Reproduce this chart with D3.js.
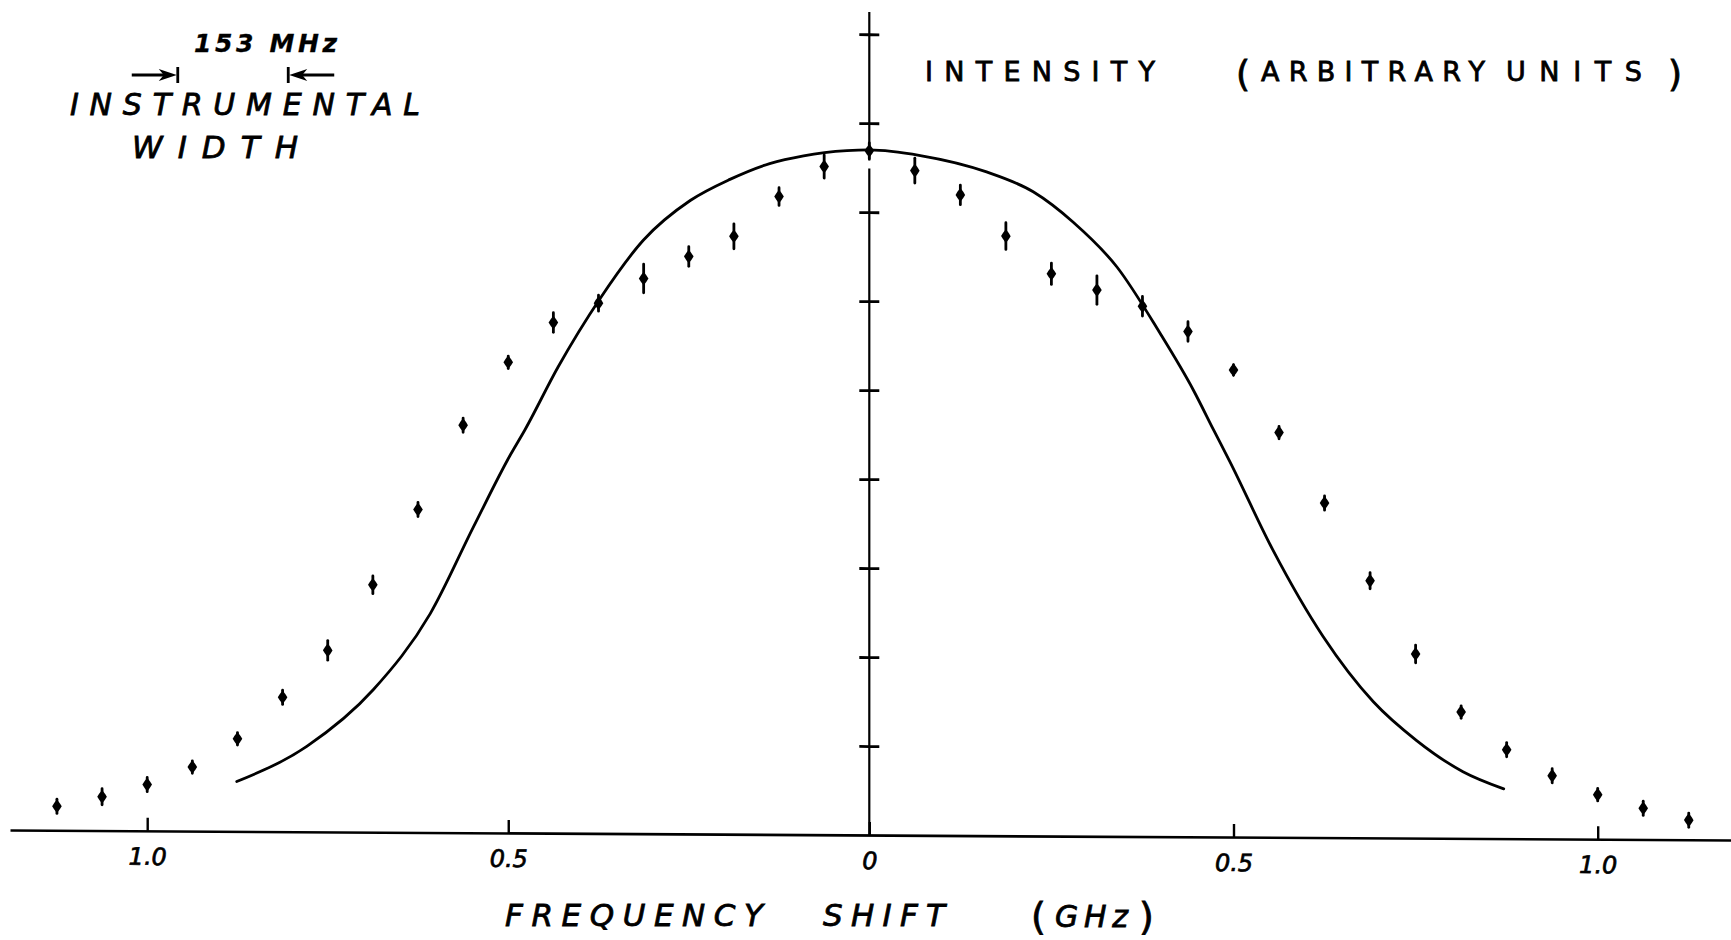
<!DOCTYPE html>
<html>
<head>
<meta charset="utf-8">
<script src="https://cdn.jsdelivr.net/npm/d3@7"></script>
<style>
  html, body { margin: 0; padding: 0; background: #fff; }
  svg { display: block; }
</style>
</head>
<body>
<script>
// Measured line profile: frequency shift (GHz) and intensity (arbitrary units)
const shiftGHz = [
  -1.125, -1.0625, -1.0, -0.9375, -0.875, -0.8125, -0.75, -0.6875, -0.625,
  -0.5625, -0.5, -0.4375, -0.375, -0.3125, -0.25, -0.1875, -0.125, -0.0625,
  0,
  0.0625, 0.125, 0.1875, 0.25, 0.3125, 0.375, 0.4375, 0.5, 0.5625,
  0.625, 0.6875, 0.75, 0.8125, 0.875, 0.9375, 1.0, 1.0625, 1.125
];
const intensity = [
  0.27, 0.38, 0.52, 0.72, 1.04, 1.51, 2.04, 2.78, 3.63,
  4.58, 5.29, 5.74, 5.96, 6.24, 6.49, 6.72, 7.17, 7.51,
  7.69,
  7.47, 7.20, 6.74, 6.32, 6.14, 5.96, 5.68, 5.25, 4.55,
  3.76, 2.89, 2.07, 1.42, 1.00, 0.71, 0.50, 0.35, 0.22
];
const intensityErr = [
  0.08, 0.09, 0.08, 0.07, 0.07, 0.08, 0.11, 0.10, 0.08,
  0.08, 0.07, 0.11, 0.09, 0.16, 0.11, 0.14, 0.10, 0.13,
  0.09,
  0.14, 0.11, 0.15, 0.12, 0.16, 0.11, 0.11, 0.06, 0.07,
  0.08, 0.09, 0.10, 0.07, 0.08, 0.08, 0.07, 0.08, 0.08
];

// Calculated profile (solid curve)
const profileShift = [
  -0.876, -0.779, -0.687, -0.608, -0.548, -0.497, -0.477, -0.431, -0.373,
  -0.313, -0.248, -0.193, -0.138, -0.091, -0.031, 0,
  0.070, 0.161, 0.225, 0.280, 0.340, 0.399, 0.445, 0.473, 0.495,
  0.554, 0.623, 0.692, 0.751, 0.815, 0.871
];
const profileIntensity = [
  0.56, 0.96, 1.60, 2.46, 3.44, 4.25, 4.53, 5.24, 6.01,
  6.67, 7.12, 7.36, 7.54, 7.63, 7.69, 7.70,
  7.64, 7.46, 7.24, 6.90, 6.40, 5.66, 5.02, 4.57, 4.22,
  3.23, 2.26, 1.53, 1.10, 0.75, 0.56
];

// Axis ticks
const xTickValues = [-1.0, -0.5, 0, 0.5, 1.0];
const xTickLabels = ["1.0", "0.5", "0", "0.5", "1.0"];
const yTickValues = [1, 2, 3, 4, 5, 6, 7, 8, 9];

// Instrumental width marker (GHz)
const instrumentalWidthGHz = 0.153;

const W = 1731, H = 940;
const FONT = "'DejaVu Sans', 'Liberation Sans', sans-serif";

const svg = d3.select("body").append("svg")
  .attr("width", W).attr("height", H);
svg.append("rect").attr("width", W).attr("height", H).attr("fill", "#fff");

// Frequency scale, slightly different spacing on each side of line centre
const x = d3.scaleLinear()
  .domain([-1.19, 0, 1.183])
  .range([10, 869.3, 1731]);
const y = d3.scaleLinear()
  .domain([0, 9.25])
  .range([835, 12]);

// Plot group: the baseline droops gently towards the right
const plot = svg.append("g")
  .attr("transform", `translate(${x(0)},0) skewY(0.33) translate(${-x(0)},0)`);

// Horizontal (frequency) axis with upward ticks
const xAxis = d3.axisBottom(x)
  .tickValues(xTickValues)
  .tickSize(-13)
  .tickSizeOuter(0)
  .tickPadding(17)
  .tickFormat(d => xTickLabels[xTickValues.indexOf(d)]);

const gx = plot.append("g")
  .attr("transform", `translate(0,${y(0)})`)
  .call(xAxis);
gx.select(".domain").attr("stroke", "#000").attr("stroke-width", 2.6);
gx.selectAll(".tick line").attr("stroke", "#000").attr("stroke-width", 2.4);
gx.selectAll(".tick text")
  .attr("fill", "#000")
  .attr("stroke", "#000")
  .attr("stroke-width", 0.7)
  .attr("font-family", FONT)
  .attr("font-style", "italic")
  .attr("font-size", 24);

// Vertical (intensity) axis: cross ticks, line broken just below the peak
const gy = plot.append("g").attr("transform", `translate(${x(0)},0)`);
gy.append("g")
  .call(d3.axisLeft(y).tickValues(yTickValues).tickSize(10).tickFormat(""))
  .call(g => g.select(".domain").remove());
gy.append("g")
  .call(d3.axisRight(y).tickValues(yTickValues).tickSize(10).tickFormat(""))
  .call(g => g.select(".domain").remove());
gy.selectAll(".tick line").attr("stroke", "#000").attr("stroke-width", 2.8);

const axisSegments = [[0, 7.49], [7.58, 9.25]];
gy.selectAll("line.vaxis")
  .data(axisSegments)
  .join("line")
  .attr("class", "vaxis")
  .attr("x1", 0).attr("x2", 0)
  .attr("y1", d => y(d[0])).attr("y2", d => y(d[1]))
  .attr("stroke", "#000").attr("stroke-width", 2.2);

// Calculated profile
const line = d3.line()
  .x(d => x(d[0]))
  .y(d => y(d[1]))
  .curve(d3.curveMonotoneX);
plot.append("path")
  .datum(d3.zip(profileShift, profileIntensity))
  .attr("d", line)
  .attr("fill", "none")
  .attr("stroke", "#000")
  .attr("stroke-width", 2.8)
  .attr("stroke-linecap", "round")
  .attr("stroke-linejoin", "round");

// Measured points with error bars
const pts = shiftGHz.map((s, i) => ({ s, v: intensity[i], e: intensityErr[i] }));
plot.append("g").selectAll("line")
  .data(pts)
  .join("line")
  .attr("x1", d => x(d.s)).attr("x2", d => x(d.s))
  .attr("y1", d => y(d.v + d.e)).attr("y2", d => y(d.v - d.e))
  .attr("stroke", "#000")
  .attr("stroke-width", 2.8)
  .attr("stroke-linecap", "round");
plot.append("g").selectAll("path")
  .data(pts)
  .join("path")
  .attr("d", "M0,-6.8Q3.2,-3 4.8,0Q3.2,3 0,6.8Q-3.2,3 -4.8,0Q-3.2,-3 0,-6.8Z")
  .attr("transform", d => `translate(${x(d.s)},${y(d.v)})`)
  .attr("fill", "#000");

// Instrumental width indicator
const ann = svg.append("g").attr("stroke", "#000").attr("fill", "#000");
const wPx = x(-1 + instrumentalWidthGHz) - x(-1);
const midW = 233, arrowY = 75;
const barL = midW - wPx / 2, barR = midW + wPx / 2;
ann.append("line").attr("x1", barL).attr("x2", barL)
  .attr("y1", arrowY - 8).attr("y2", arrowY + 8).attr("stroke-width", 2.8);
ann.append("line").attr("x1", barR).attr("x2", barR)
  .attr("y1", arrowY - 8).attr("y2", arrowY + 8).attr("stroke-width", 2.8);
ann.append("line").attr("x1", barL - 46).attr("x2", barL - 8)
  .attr("y1", arrowY).attr("y2", arrowY).attr("stroke-width", 2.8);
ann.append("line").attr("x1", barR + 8).attr("x2", barR + 46)
  .attr("y1", arrowY).attr("y2", arrowY).attr("stroke-width", 2.8);
ann.append("path").attr("stroke", "none")
  .attr("d", `M${barL - 1},${arrowY} L${barL - 19},${arrowY - 6} L${barL - 14},${arrowY} L${barL - 19},${arrowY + 6} Z`);
ann.append("path").attr("stroke", "none")
  .attr("d", `M${barR + 1},${arrowY} L${barR + 19},${arrowY - 6} L${barR + 14},${arrowY} L${barR + 19},${arrowY + 6} Z`);

// Lettering
const labels = [
  { t: "153 MHz", x: 194, y: 52, size: 25, len: 143, style: "italic", weight: "bold" },
  { t: "INSTRUMENTAL", x: 70, y: 115, size: 30, len: 350, style: "italic" },
  { t: "WIDTH", x: 132, y: 158, size: 31, len: 166, style: "italic" },
  { t: "INTENSITY", x: 925, y: 81, size: 27, len: 230, style: "normal" },
  { t: "(", x: 1236, y: 86, size: 36, style: "normal" },
  { t: "ARBITRARY", x: 1261, y: 81, size: 27, len: 224, style: "normal" },
  { t: "UNITS", x: 1506, y: 81, size: 27, len: 136, style: "normal" },
  { t: ")", x: 1668, y: 86, size: 36, style: "normal" },
  { t: "FREQUENCY", x: 505, y: 926, size: 31, len: 258, style: "italic" },
  { t: "SHIFT", x: 823, y: 926, size: 31, len: 122, style: "italic" },
  { t: "(", x: 1031, y: 929, size: 38, style: "normal" },
  { t: "GHz", x: 1055, y: 927, size: 30, len: 73, style: "italic" },
  { t: ")", x: 1139, y: 929, size: 38, style: "normal" }
];
svg.append("g").selectAll("text")
  .data(labels)
  .join("text")
  .attr("x", d => d.x)
  .attr("y", d => d.y)
  .attr("font-family", FONT)
  .attr("font-size", d => d.size)
  .attr("font-style", d => d.style)
  .attr("font-weight", d => d.weight || "normal")
  .attr("fill", "#000")
  .attr("stroke", "#000")
  .attr("stroke-width", d => d.weight ? 0.3 : 0.8)
  .each(function (d) {
    if (d.len) {
      d3.select(this).attr("textLength", d.len).attr("lengthAdjust", "spacing");
    }
  })
  .text(d => d.t);
</script>
</body>
</html>
